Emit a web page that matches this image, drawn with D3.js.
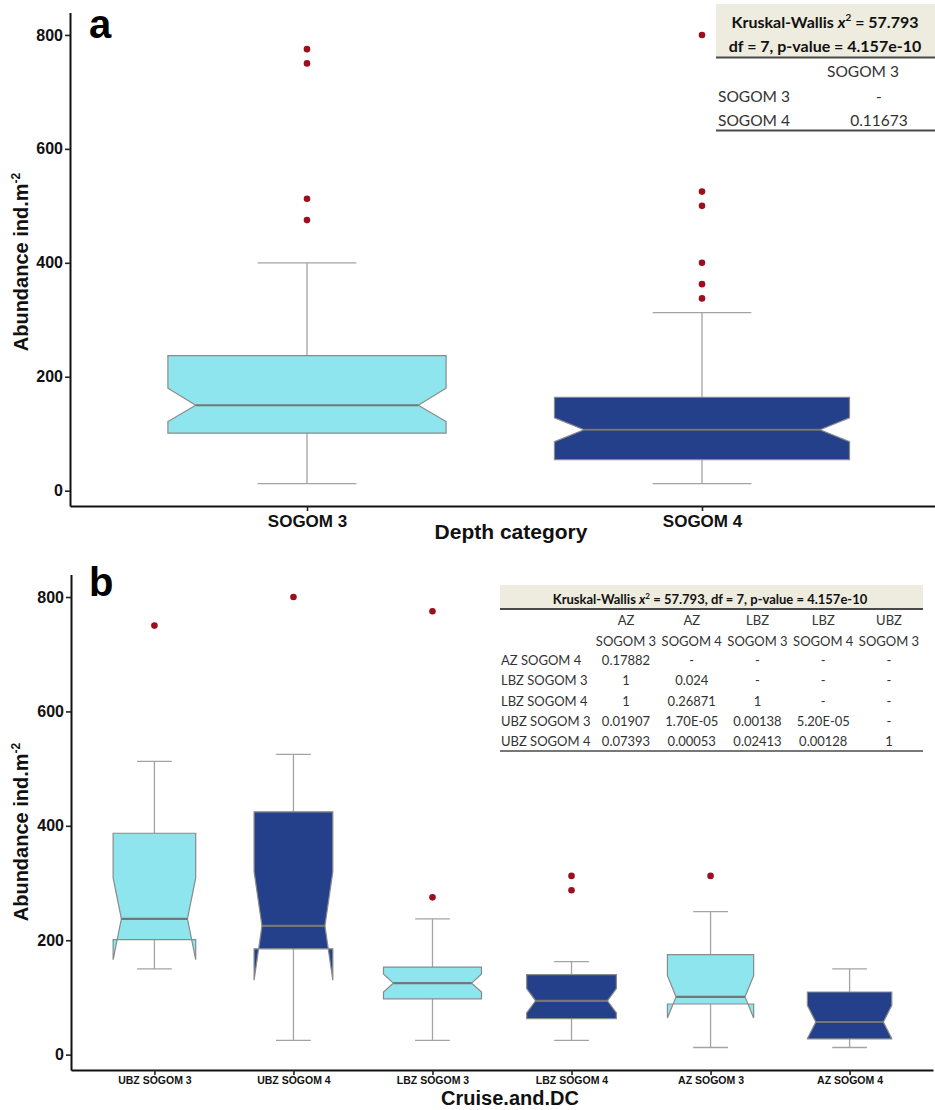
<!DOCTYPE html>
<html>
<head>
<meta charset="utf-8">
<script src="https://cdn.jsdelivr.net/npm/d3@7"></script>
<style>
  body { margin: 0; background: #fff; }
  text { font-family: "Liberation Sans", Arial, sans-serif; }
  .tbl text { font-family: Lato, "Open Sans", sans-serif; }
</style>
</head>
<body>
<svg id="fig" width="935" height="1110"></svg>
<script>
// ---------- Panel a: abundance by depth category ----------
const groupsA = ["SOGOM 3", "SOGOM 4"];
const sizeA = [56, 63];
const whiskerLowA = [12.5, 12.5];
const q1A = [101, 54.5];
const medianA = [150, 107];
const q3A = [237, 164];
const whiskerHighA = [400, 312.5];
const notchLowA = [121.5, 86];
const notchHighA = [180, 128];
const outliersA = [[775, 750, 512.5, 475], [800, 525, 500, 400, 362.5, 337.5]];

// ---------- Panel b: abundance by cruise and depth category ----------
const groupsB = ["UBZ SOGOM 3", "UBZ SOGOM 4", "LBZ SOGOM 3", "LBZ SOGOM 4", "AZ SOGOM 3", "AZ SOGOM 4"];
const sizeB = [22, 20, 31, 26, 24, 23];
const whiskerLowB = [150, 25, 25, 25, 12.5, 12.5];
const q1B = [201, 185, 97.5, 63, 88.5, 27.5];
const medianB = [237.5, 225, 125, 94, 101, 57];
const q3B = [387, 424.5, 153, 140, 175, 109.5];
const whiskerHighB = [512.5, 525, 237.5, 162.5, 250, 150];
const notchLowB = [166, 130, 109.5, 73, 64, 28];
const notchHighB = [309, 320, 141, 115.5, 138, 86];
const outliersB = [[750], [800], [775, 275], [312.5, 287.5], [312.5], []];

const yTicks = [0, 200, 400, 600, 800];

// ---------- Kruskal-Wallis summary tables ----------
const kwStatLine = ["Kruskal-Wallis ", "x", "2", " = 57.793"];
const kwDfLine = "df = 7, p-value = 4.157e-10";
const kwFullLine = ["Kruskal-Wallis ", "x", "2", " = 57.793, df = 7, p-value = 4.157e-10"];
const colsA = ["SOGOM 3"];
const rowsA = ["SOGOM 3", "SOGOM 4"];
const pA = [["-"], ["0.11673"]];
const colsB = [["AZ", "SOGOM 3"], ["AZ", "SOGOM 4"], ["LBZ", "SOGOM 3"], ["LBZ", "SOGOM 4"], ["UBZ", "SOGOM 3"]];
const rowsB = ["AZ SOGOM 4", "LBZ SOGOM 3", "LBZ SOGOM 4", "UBZ SOGOM 3", "UBZ SOGOM 4"];
const pB = [
  ["0.17882", "-", "-", "-", "-"],
  ["1", "0.024", "-", "-", "-"],
  ["1", "0.26871", "1", "-", "-"],
  ["0.01907", "1.70E-05", "0.00138", "5.20E-05", "-"],
  ["0.07393", "0.00053", "0.02413", "0.00128", "1"]
];

const LIGHT = "#8EE5EE", DARK = "#25408A";
const svg = d3.select("#fig");

// expanded value domain, 5% on each side of the data range
function valueDomain(lows, outs, highs) {
  const lo = d3.min(lows);
  const hi = d3.max([...outs.flat(), ...highs]);
  const pad = (hi - lo) * 0.05;
  return [lo - pad, hi + pad];
}

function drawPanel(cfg) {
  const g = svg.append("g");
  const x = d3.scalePoint().domain(cfg.groups).range(cfg.xRange).padding(0.6);
  const y = d3.scaleLinear().domain(cfg.yDomain).range(cfg.yRange);
  const step = x.step();
  const maxRoot = d3.max(cfg.n, v => Math.sqrt(v));

  const boxes = cfg.groups.map((name, i) => ({
    cx: x(name),
    half: step * cfg.boxFrac / 2 * Math.sqrt(cfg.n[i]) / maxRoot,
    lo: cfg.whiskerLow[i], q1: cfg.q1[i], med: cfg.median[i], q3: cfg.q3[i], hi: cfg.whiskerHigh[i],
    nlo: cfg.notchLow[i], nhi: cfg.notchHigh[i], out: cfg.outliers[i], fill: cfg.fills[i]
  }));

  // error-bar whiskers with caps
  const capHalf = step * 0.25 / 2;
  const wg = g.append("g").attr("stroke", "#a3a3a3").attr("stroke-width", 1.3).attr("fill", "none");
  boxes.forEach(b => {
    wg.append("line").attr("x1", b.cx).attr("x2", b.cx).attr("y1", y(b.lo)).attr("y2", y(b.hi));
    wg.append("line").attr("x1", b.cx - capHalf).attr("x2", b.cx + capHalf).attr("y1", y(b.lo)).attr("y2", y(b.lo));
    wg.append("line").attr("x1", b.cx - capHalf).attr("x2", b.cx + capHalf).attr("y1", y(b.hi)).attr("y2", y(b.hi));
  });

  // notched boxes
  const line = d3.line();
  boxes.forEach(b => {
    const x0 = b.cx - b.half, x1 = b.cx + b.half;
    const n0 = b.cx - b.half * 0.8, n1 = b.cx + b.half * 0.8;
    const pts = [
      [x0, y(b.q3)], [x0, y(b.nhi)], [n0, y(b.med)], [x0, y(b.nlo)], [x0, y(b.q1)],
      [x1, y(b.q1)], [x1, y(b.nlo)], [n1, y(b.med)], [x1, y(b.nhi)], [x1, y(b.q3)]
    ];
    g.append("path").attr("d", line(pts) + "Z")
      .attr("fill", b.fill).attr("stroke", "#8a8a8a").attr("stroke-width", 1.2)
      .attr("stroke-linejoin", "miter");
    g.append("line").attr("x1", n0).attr("x2", n1).attr("y1", y(b.med)).attr("y2", y(b.med))
      .attr("stroke", "#767676").attr("stroke-width", 2.2);
    g.selectAll(null).data(b.out).enter().append("circle")
      .attr("cx", b.cx).attr("cy", v => y(v)).attr("r", 3.3).attr("fill", "#9B0F1E");
  });

  // axes
  const yAxis = g.append("g").attr("transform", `translate(${cfg.xRange[0]},0)`)
    .call(d3.axisLeft(y).tickValues(yTicks).tickSize(5).tickSizeOuter(0).tickPadding(2));
  const xAxis = g.append("g").attr("transform", `translate(0,${cfg.yRange[0]})`)
    .call(d3.axisBottom(x).tickSize(5).tickSizeOuter(0).tickPadding(cfg.xTickPad));
  [yAxis, xAxis].forEach(ax => {
    ax.select(".domain").attr("stroke", "#111").attr("stroke-width", 2);
    ax.selectAll(".tick line").attr("stroke", "#222").attr("stroke-width", 1.6);
    ax.selectAll(".tick text").attr("fill", "#111").attr("font-weight", "bold")
      .attr("font-family", "'Liberation Sans', Arial, sans-serif");
  });
  yAxis.selectAll(".tick text").attr("font-size", cfg.yTickSize);
  xAxis.selectAll(".tick text").attr("font-size", cfg.xTickSize);

  // axis titles
  const yt = g.append("text")
    .attr("transform", `translate(${cfg.yTitleX},${cfg.yTitleY}) rotate(-90)`)
    .attr("text-anchor", "middle").attr("font-size", 20).attr("font-weight", "bold").attr("fill", "#111");
  yt.append("tspan").text("Abundance ind.m");
  yt.append("tspan").attr("font-size", 12).attr("dy", -8).text("-2");

  g.append("text").attr("x", cfg.xTitleX).attr("y", cfg.xTitleY).attr("text-anchor", "middle")
    .attr("font-size", cfg.xTitleSize).attr("font-weight", "bold").attr("fill", "#111").text(cfg.xTitle);

  g.append("text").attr("x", cfg.tagX).attr("y", cfg.tagY)
    .attr("font-size", 40).attr("font-weight", "bold").attr("fill", "#000").text(cfg.tag);
}

drawPanel({
  groups: groupsA, n: sizeA, whiskerLow: whiskerLowA, q1: q1A, median: medianA, q3: q3A,
  whiskerHigh: whiskerHighA, notchLow: notchLowA, notchHigh: notchHighA, outliers: outliersA,
  fills: [LIGHT, DARK], boxFrac: 0.747,
  xRange: [70, 939], yDomain: valueDomain(whiskerLowA, outliersA, whiskerHighA), yRange: [506, 12.5],
  yTickSize: 16, xTickSize: 17, xTickPad: 4,
  yTitleX: 28, yTitleY: 262, xTitle: "Depth category", xTitleSize: 21, xTitleX: 511, xTitleY: 539,
  tag: "a", tagX: 89, tagY: 38
});

drawPanel({
  groups: groupsB, n: sizeB, whiskerLow: whiskerLowB, q1: q1B, median: medianB, q3: q3B,
  whiskerHigh: whiskerHighB, notchLow: notchLowB, notchHigh: notchHighB, outliers: outliersB,
  fills: [LIGHT, DARK, LIGHT, DARK, LIGHT, DARK], boxFrac: 0.705,
  xRange: [71, 933], yDomain: valueDomain(whiskerLowB, outliersB, whiskerHighB), yRange: [1070, 574.5],
  yTickSize: 16, xTickSize: 10.5, xTickPad: 2,
  yTitleX: 28, yTitleY: 832, xTitle: "Cruise.and.DC", xTitleSize: 20, xTitleX: 510, xTitleY: 1105,
  tag: "b", tagX: 89, tagY: 596
});

// ---------- tables ----------
function kwText(sel, parts, x, y, size) {
  const t = sel.append("text").attr("x", x).attr("y", y).attr("text-anchor", "middle")
    .attr("font-size", size).attr("font-weight", "bold").attr("fill", "#111");
  t.append("tspan").text(parts[0]);
  t.append("tspan").attr("font-style", "italic").text(parts[1]);
  t.append("tspan").attr("font-size", size * 0.62).attr("dy", -size * 0.42).text(parts[2]);
  t.append("tspan").attr("dy", size * 0.42).text(parts[3]);
}

// table for panel a
const ta = svg.append("g").attr("class", "tbl");
ta.append("rect").attr("x", 716).attr("y", 4).attr("width", 219).attr("height", 53).attr("fill", "#EEEBDF");
ta.append("line").attr("x1", 716).attr("x2", 935).attr("y1", 57.5).attr("y2", 57.5).attr("stroke", "#4a4a4a").attr("stroke-width", 2);
ta.append("line").attr("x1", 716).attr("x2", 935).attr("y1", 130.5).attr("y2", 130.5).attr("stroke", "#4a4a4a").attr("stroke-width", 2);
kwText(ta, kwStatLine, 825, 28, 16);
ta.append("text").attr("x", 825).attr("y", 52).attr("text-anchor", "middle").attr("font-size", 16)
  .attr("font-weight", "bold").attr("fill", "#111").text(kwDfLine);
ta.selectAll(".ch").data(colsA).enter().append("text").attr("class", "ch")
  .attr("x", 863).attr("y", 77).attr("text-anchor", "middle").attr("font-size", 15.5).attr("fill", "#333").text(d => d);
rowsA.forEach((r, i) => {
  ta.append("text").attr("x", 718).attr("y", 102 + i * 24).attr("font-size", 15.5).attr("fill", "#333").text(r);
  pA[i].forEach(v => ta.append("text").attr("x", 879).attr("y", 102 + i * 24).attr("text-anchor", "middle")
    .attr("font-size", 15.5).attr("fill", "#333").text(v));
});

// table for panel b
const tb = svg.append("g").attr("class", "tbl");
tb.append("rect").attr("x", 500).attr("y", 585).attr("width", 423).attr("height", 23.5).attr("fill", "#EEEBDF");
tb.append("line").attr("x1", 500).attr("x2", 923).attr("y1", 609).attr("y2", 609).attr("stroke", "#4a4a4a").attr("stroke-width", 2);
tb.append("line").attr("x1", 500).attr("x2", 923).attr("y1", 751).attr("y2", 751).attr("stroke", "#4a4a4a").attr("stroke-width", 1.6);
kwText(tb, kwFullLine, 710, 604, 13);
const colX = d3.scalePoint().domain(d3.range(colsB.length)).range([626, 889]);
colsB.forEach((c, j) => {
  c.forEach((s, k) => tb.append("text").attr("x", colX(j)).attr("y", 625 + k * 21).attr("text-anchor", "middle")
    .attr("font-size", 13).attr("fill", "#333").text(s));
});
const rowY = d3.scalePoint().domain(d3.range(rowsB.length)).range([665, 746]);
rowsB.forEach((r, i) => {
  tb.append("text").attr("x", 501).attr("y", rowY(i)).attr("font-size", 13).attr("fill", "#333").text(r);
  pB[i].forEach((v, j) => tb.append("text").attr("x", colX(j)).attr("y", rowY(i)).attr("text-anchor", "middle")
    .attr("font-size", 13).attr("fill", "#333").text(v));
});
</script>
</body>
</html>
